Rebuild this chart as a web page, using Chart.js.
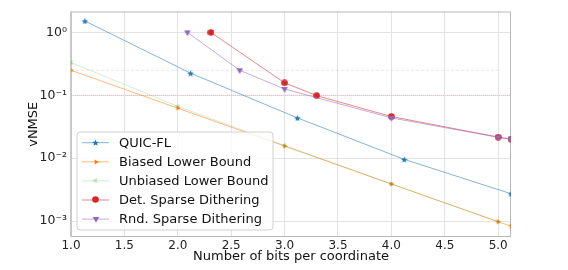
<!DOCTYPE html>
<html>
<head>
<meta charset="utf-8">
<script src="https://cdn.jsdelivr.net/npm/chart.js@4/dist/chart.umd.min.js"></script>
<style>
  html, body { margin: 0; padding: 0; background: #fff; }
  canvas { display: block; }
</style>
</head>
<body>
<canvas id="chart" width="568" height="270"></canvas>
<script>
// values
const quicX = [1.13, 2.12, 3.12, 4.12, 5.12];
const quicY = [1.52, 0.225, 0.0438, 0.0096, 0.00273];

const biasedX = [1, 2, 3, 4, 5, 5.12];
const biasedY = [0.25, 0.0625, 0.0156, 0.0039, 0.00098, 0.00083];

const unbiasedX = [1, 2, 3, 4, 5];
const unbiasedY = [0.333, 0.0667, 0.0159, 0.0039, 0.00098];

const detX = [2.31, 3.0, 3.3, 4.0, 5.0, 5.12];
const detY = [1.0, 0.158, 0.099, 0.046, 0.0217, 0.0202];

const rndX = [2.09, 2.58, 3.0, 4.0, 5.0, 5.12];
const rndY = [1.0, 0.25, 0.126, 0.0438, 0.0215, 0.0200];

const dashRefX = [1, 5];
const dashRefY = [0.25, 0.25];
const pinkRefX = [1, 5.12];
const pinkRefY = [0.1, 0.1];

const xTicks = [1.0, 1.5, 2.0, 2.5, 3.0, 3.5, 4.0, 4.5, 5.0];
const yTicks = [0.001, 0.01, 0.1, 1];
const yTickLabels = ['10\u207B\u00B3', '10\u207B\u00B2', '10\u207B\u00B9', '10\u2070'];

const FONT = "'DejaVu Sans', sans-serif";

function pts(xs, ys) {
  return xs.map((x, i) => ({ x: x, y: ys[i] }));
}

// small marker images, like matplotlib markers
function makeMarker(shape, size, color) {
  const c = document.createElement('canvas');
  c.width = size; c.height = size;
  const g = c.getContext('2d');
  const m = size / 2;
  g.fillStyle = color;
  g.beginPath();
  if (shape === 'star') {
    const ro = m, ri = m * 0.42;
    for (let i = 0; i < 10; i++) {
      const r = i % 2 ? ri : ro;
      const a = -Math.PI / 2 + i * Math.PI / 5;
      const px = m + r * Math.cos(a), py = m + 0.5 + r * Math.sin(a);
      i ? g.lineTo(px, py) : g.moveTo(px, py);
    }
  } else if (shape === 'circle') {
    g.arc(m, m, m - 0.2, 0, Math.PI * 2);
  } else {
    const r = m - 0.2;
    let angles;
    if (shape === 'right') angles = [0, 120, 240];
    else if (shape === 'left') angles = [180, 300, 60];
    else angles = [90, 210, 330]; // down
    angles.forEach((d, i) => {
      const a = d * Math.PI / 180;
      const px = m + r * Math.cos(a), py = m + r * Math.sin(a);
      i ? g.lineTo(px, py) : g.moveTo(px, py);
    });
  }
  g.closePath();
  g.fill();
  return c;
}

const mkQuic = makeMarker('star', 7, '#1f77b4');
const mkBiased = makeMarker('right', 6, '#ff7f0e');
const mkUnbiased = makeMarker('left', 7, 'rgba(44,160,44,0.25)');
const mkDet = makeMarker('circle', 7, '#d62728');
const mkRnd = makeMarker('down', 8, '#9467bd');

function series(label, xs, ys, line, marker, order) {
  return {
    label: label,
    data: pts(xs, ys),
    borderColor: line,
    borderWidth: 1,
    pointStyle: marker,
    pointRadius: 4,
    pointHoverRadius: 4,
    fill: false,
    tension: 0,
    clip: 0,
    order: order
  };
}

const datasets = [
  series('QUIC-FL', quicX, quicY, 'rgba(31,119,180,0.55)', mkQuic, 5),
  series('Biased Lower Bound', biasedX, biasedY, 'rgba(255,127,14,0.55)', mkBiased, 4),
  series('Unbiased Lower Bound', unbiasedX, unbiasedY, 'rgba(44,160,44,0.2)', mkUnbiased, 3),
  series('Det. Sparse Dithering', detX, detY, 'rgba(214,39,40,0.55)', mkDet, 2),
  series('Rnd. Sparse Dithering', rndX, rndY, 'rgba(148,103,189,0.55)', mkRnd, 1),
  {
    label: 'ref025', data: pts(dashRefX, dashRefY), borderColor: 'rgba(150,150,150,0.22)',
    borderWidth: 1, borderDash: [3, 2], pointRadius: 0, clip: 0, order: 9, isRef: true
  },
  {
    label: 'ref01', data: pts(pinkRefX, pinkRefY), borderColor: 'rgba(240,150,160,0.45)',
    borderWidth: 1, borderDash: [1, 1], pointRadius: 0, clip: 0, order: 9, isRef: true
  }
];

// legend inside the plot, matplotlib style
const insideLegend = {
  id: 'insideLegend',
  afterDraw(chart) {
    const ctx = chart.ctx;
    const bx = 77, by = 132, bw = 196, bh = 98, rr = 3;
    ctx.save();
    ctx.beginPath();
    ctx.moveTo(bx + rr, by);
    ctx.arcTo(bx + bw, by, bx + bw, by + bh, rr);
    ctx.arcTo(bx + bw, by + bh, bx, by + bh, rr);
    ctx.arcTo(bx, by + bh, bx, by, rr);
    ctx.arcTo(bx, by, bx + bw, by, rr);
    ctx.closePath();
    ctx.fillStyle = 'rgba(255,255,255,0.8)';
    ctx.fill();
    ctx.strokeStyle = '#d0d0d0';
    ctx.lineWidth = 1;
    ctx.stroke();
    ctx.font = '13px ' + FONT;
    ctx.textBaseline = 'middle';
    ctx.fillStyle = '#111';
    let y = 142.7;
    chart.data.datasets.filter(d => !d.isRef).forEach(d => {
      ctx.strokeStyle = d.borderColor;
      ctx.beginPath();
      ctx.moveTo(82, y);
      ctx.lineTo(109, y);
      ctx.stroke();
      const im = d.pointStyle;
      ctx.drawImage(im, Math.round(95.5 - im.width / 2), Math.round(y - im.height / 2));
      ctx.fillText(d.label, 119, y + 0.5);
      y += 19.1;
    });
    ctx.restore();
  }
};

// axes frame
const frame = {
  id: 'frame',
  beforeDatasetsDraw(chart) {
    const a = chart.chartArea, ctx = chart.ctx;
    ctx.save();
    ctx.strokeStyle = '#b8b8b8';
    ctx.lineWidth = 1;
    ctx.strokeRect(a.left + 0.5, a.top + 0.5, a.right - a.left - 1, a.bottom - a.top - 1);
    ctx.fillStyle = '#c8c8c8';
    ctx.fillRect(a.left - 1, a.top, 2, a.bottom - a.top);
    ctx.restore();
  }
};

new Chart(document.getElementById('chart'), {
  type: 'line',
  data: { datasets: datasets },
  plugins: [frame, insideLegend],
  options: {
    responsive: false,
    animation: false,
    devicePixelRatio: 1,
    layout: { padding: { top: 10, right: 57, left: 0, bottom: 0 } },
    plugins: { legend: { display: false }, tooltip: { enabled: false } },
    scales: {
      x: {
        type: 'linear',
        min: 1.0,
        max: 5.12,
        afterBuildTicks: s => { s.ticks = xTicks.map(v => ({ value: v })); },
        afterFit: s => { s.height = 33; },
        grid: { color: '#e3e3e3', drawTicks: false },
        border: { display: false },
        ticks: {
          padding: 2,
          color: '#222',
          font: { family: FONT, size: 12 },
          maxRotation: 0,
          callback: v => v.toFixed(1)
        },
        title: {
          display: true,
          text: 'Number of bits per coordinate',
          color: '#111',
          font: { family: FONT, size: 13 },
          padding: { top: 0, bottom: 6 }
        }
      },
      y: {
        type: 'logarithmic',
        min: 0.00056,
        max: 2.15,
        afterBuildTicks: s => { s.ticks = yTicks.map(v => ({ value: v })); },
        afterFit: s => { s.width = 71; },
        grid: { color: '#e3e3e3', drawTicks: false },
        border: { display: false },
        ticks: {
          padding: 4,
          color: '#222',
          font: { family: FONT, size: 12.5 },
          callback: v => {
            const i = yTicks.indexOf(v);
            return i >= 0 ? yTickLabels[i] : '';
          }
        },
        title: {
          display: true,
          text: 'vNMSE',
          color: '#111',
          font: { family: FONT, size: 13 },
          padding: { top: 26, bottom: 0 }
        }
      }
    }
  }
});
</script>
</body>
</html>
